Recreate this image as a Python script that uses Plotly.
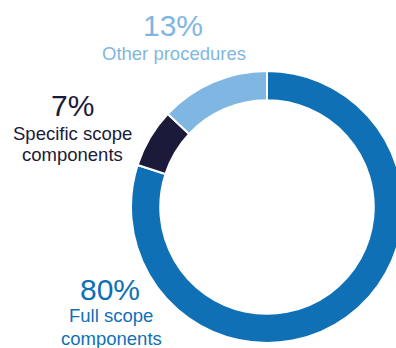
import plotly.graph_objects as go

categories = ["Full scope components", "Specific scope components", "Other procedures"]
values = [80, 7, 13]
colors = ["#1070B6", "#1B1A3B", "#7FB7E2"]

W, H = 404, 348
cx, cy, R = 267, 207, 136

fig = go.Figure(go.Pie(
    labels=categories, values=values, sort=False, direction="clockwise", rotation=0,
    hole=0.785, textinfo="none", hoverinfo="skip", showlegend=False,
    marker=dict(colors=colors, line=dict(color="white", width=2)),
    domain=dict(x=[(cx - R) / W, (cx + R) / W], y=[(H - cy - R) / H, (H - cy + R) / H]),
))

FONT = "Liberation Sans, Arial, Helvetica, sans-serif"

def ann(text, x, y, size, color):
    fig.add_annotation(text=text, x=x / W, y=1 - y / H, xref="paper", yref="paper",
                       xanchor="center", yanchor="middle", showarrow=False,
                       font=dict(family=FONT, size=size, color=color))

labels = [
    ("13%", 173, 25, 30, colors[2]),
    ("Other procedures", 174, 53, 18.5, colors[2]),
    ("7%", 72, 105, 30, colors[1]),
    ("Specific scope", 72, 133, 18.5, colors[1]),
    ("components", 72, 154, 18.5, colors[1]),
    ("80%", 110, 289, 30, colors[0]),
    ("Full scope", 111, 315, 18.5, colors[0]),
    ("components", 111, 338, 18.5, colors[0]),
]
for t, x, y, s, c in labels:
    ann(t, x, y, s, c)

fig.update_layout(width=W, height=H, margin=dict(l=0, r=0, t=0, b=0),
                  paper_bgcolor="white", plot_bgcolor="white")

fig.write_html("out.html", config={"displayModeBar": False, "staticPlot": True},
               post_script="document.documentElement.style.overflow='hidden';document.body.style.overflow='hidden';document.body.style.margin='0';")
